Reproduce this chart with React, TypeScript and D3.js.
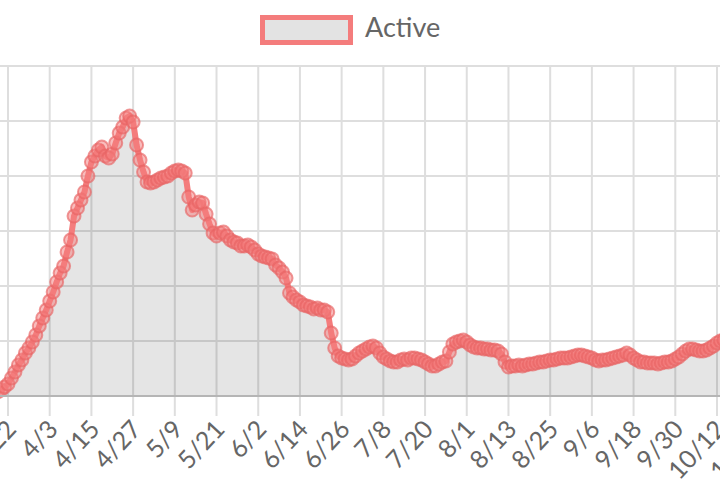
import React from "react";
import * as d3 from "d3";

const START = Date.UTC(2020, 2, 19); // first data day: 3/19
const activeValues: number[] = [
  73, 109, 164, 218, 327, 436, 564, 655, 782, 873,
  982, 1109, 1273, 1418, 1563, 1727, 1891, 2073, 2236, 2363,
  2618, 2836, 3272, 3418, 3563, 3709, 4000, 4254, 4363, 4472,
  4527, 4363, 4327, 4400, 4600, 4781, 4890, 5054, 5091, 4981,
  4563, 4290, 4072, 3890, 3872, 3890, 3927, 3963, 3981, 4000,
  4054, 4090, 4109, 4090, 4054, 3618, 3381, 3472, 3527, 3509,
  3309, 3127, 2963, 2909, 2963, 2981, 2909, 2836, 2800, 2781,
  2727, 2727, 2745, 2709, 2654, 2582, 2545, 2527, 2509, 2491,
  2382, 2327, 2254, 2145, 1873, 1800, 1745, 1709, 1654, 1636,
  1618, 1582, 1600, 1563, 1563, 1527, 1145, 873, 727, 691,
  673, 655, 673, 727, 782, 818, 855, 891, 909, 873,
  782, 709, 673, 636, 618, 618, 655, 673, 655, 691,
  691, 673, 655, 618, 582, 545, 545, 582, 618, 636,
  800, 945, 982, 1000, 1018, 982, 927, 891, 873, 873,
  855, 855, 836, 836, 818, 764, 618, 527, 545, 545,
  564, 545, 564, 582, 582, 600, 618, 618, 636, 655,
  655, 673, 691, 691, 691, 709, 727, 745, 745, 727,
  709, 691, 655, 636, 655, 655, 673, 691, 709, 727,
  745, 782, 745, 691, 655, 618, 618, 600, 600, 600,
  582, 600, 618, 618, 636, 673, 709, 764, 818, 855,
  855, 836, 818, 818, 836, 873, 909, 964, 1000, 1018,
];

const tickLabels = [
  "3/22", "4/3", "4/15", "4/27", "5/9", "5/21", "6/2", "6/14", "6/26", "7/8",
  "7/20", "8/1", "8/13", "8/25", "9/6", "9/18", "9/30", "10/12", "10/24",
];
const yTicks = [0, 1000, 2000, 3000, 4000, 5000, 6000];
const seriesName = "Active";

const DAY = 86400000;
const W = 720;
const H = 480;

function labelDate(label: string): Date {
  const [m, d] = label.split("/").map(Number);
  return new Date(Date.UTC(2020, m - 1, d));
}

export default function App() {
  const x = d3
    .scaleUtc()
    .domain([labelDate("3/22"), labelDate("10/12")])
    .range([8, 717]);
  const y = d3.scaleLinear().domain([0, 6000]).range([396, 66]);

  const data = activeValues.map((v, i) => ({ date: new Date(START + i * DAY), v }));

  const line = d3
    .line<{ date: Date; v: number }>()
    .x((d) => x(d.date))
    .y((d) => y(d.v));
  const area = d3
    .area<{ date: Date; v: number }>()
    .x((d) => x(d.date))
    .y0(y(0))
    .y1((d) => y(d.v));

  const red = "#f47c7c";
  const font = "Lato, 'Noto Sans', sans-serif";

  return (
    <svg
      width={W}
      height={H}
      style={{ position: "absolute", left: 0, top: 0, background: "#fff" }}
    >
      {yTicks.map((t) => (
        <line
          key={"h" + t}
          x1={0}
          x2={W}
          y1={y(t)}
          y2={y(t)}
          stroke="#dedede"
          strokeWidth={2}
        />
      ))}
      {tickLabels.map((l) => (
        <line
          key={"v" + l}
          x1={x(labelDate(l))}
          x2={x(labelDate(l))}
          y1={y(6000)}
          y2={y(0) + 20}
          stroke="#dedede"
          strokeWidth={2}
        />
      ))}
      <path d={area(data) || ""} fill="rgba(0,0,0,0.1)" />
      <path
        d={line(data) || ""}
        fill="none"
        stroke={red}
        strokeWidth={6}
        strokeLinejoin="round"
      />
      {data.map((d, i) => (
        <circle
          key={i}
          cx={x(d.date)}
          cy={y(d.v)}
          r={6.5}
          fill="rgba(244,124,124,0.5)"
          stroke="rgba(232,100,100,0.65)"
          strokeWidth={2}
        />
      ))}
      <line x1={0} x2={W} y1={y(0)} y2={y(0)} stroke="#b5b5b5" strokeWidth={2} />
      {tickLabels.map((l) => {
        const tx = x(labelDate(l));
        return (
          <text
            key={"t" + l}
            transform={`translate(${tx + 5},${y(0) + 30}) rotate(-47)`}
            textAnchor="end"
            dominantBaseline="middle"
            fontFamily={font}
            fontSize={25}
            fill="#666"
          >
            {l}
          </text>
        );
      })}
      <rect x={262.5} y={17.5} width={88} height={25} fill="#e3e3e3" stroke={red} strokeWidth={5} />
      <text
        x={365}
        y={30}
        dominantBaseline="middle"
        fontFamily={font}
        fontSize={27}
        fill="#666"
      >
        {seriesName}
      </text>
    </svg>
  );
}
